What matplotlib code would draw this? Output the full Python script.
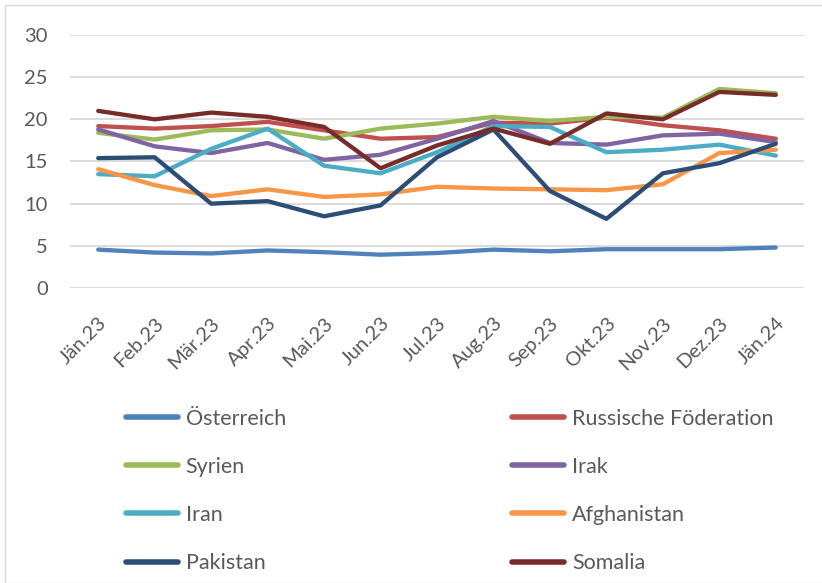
import matplotlib.pyplot as plt
from matplotlib.lines import Line2D
from matplotlib.patches import Rectangle

plt.rcParams['font.family'] = ['Lato', 'DejaVu Sans']

months = ['Jän.23', 'Feb.23', 'Mär.23', 'Apr.23', 'Mai.23', 'Jun.23', 'Jul.23',
          'Aug.23', 'Sep.23', 'Okt.23', 'Nov.23', 'Dez.23', 'Jän.24']

oesterreich = [4.55, 4.2, 4.1, 4.45, 4.25, 3.95, 4.15, 4.55, 4.35, 4.6, 4.6, 4.6, 4.8]
russland = [19.2, 18.9, 19.2, 19.7, 18.7, 17.7, 17.9, 19.6, 19.5, 20.2, 19.3, 18.7, 17.7]
syrien = [18.4, 17.6, 18.7, 18.8, 17.7, 18.9, 19.5, 20.3, 19.8, 20.3, 20.2, 23.6, 23.1]
irak = [18.8, 16.8, 16.0, 17.2, 15.2, 15.8, 17.7, 19.8, 17.2, 17.0, 18.1, 18.3, 17.3]
iran = [13.5, 13.25, 16.5, 18.9, 14.5, 13.6, 16.1, 19.2, 19.1, 16.1, 16.4, 17.0, 15.7]
afghanistan = [14.1, 12.2, 10.9, 11.7, 10.8, 11.1, 12.0, 11.8, 11.7, 11.6, 12.3, 16.0, 16.4]
pakistan = [15.4, 15.5, 10.0, 10.3, 8.5, 9.8, 15.5, 18.8, 11.5, 8.2, 13.6, 14.8, 17.1]
somalia = [21.0, 20.0, 20.8, 20.3, 19.1, 14.2, 16.9, 18.9, 17.1, 20.7, 20.0, 23.25, 22.9]

series = [
    ('Österreich', oesterreich, '#4f81bd'),
    ('Russische Föderation', russland, '#c0504d'),
    ('Syrien', syrien, '#9bbb59'),
    ('Irak', irak, '#8064a2'),
    ('Iran', iran, '#4bacc6'),
    ('Afghanistan', afghanistan, '#f79646'),
    ('Pakistan', pakistan, '#2c4d75'),
    ('Somalia', somalia, '#772c2a'),
]

txt = '#595959'
fig = plt.figure(figsize=(8.22, 5.83), dpi=100)
ax = fig.add_axes([70 / 822, 1 - 288 / 583, 734 / 822, 253 / 583])

x = range(len(months))
for name, vals, col in series:
    ax.plot(x, vals, color=col, lw=3.1, solid_capstyle='round',
            solid_joinstyle='round', label=name)

ax.set_xlim(-0.5, len(months) - 0.5)
ax.set_ylim(0, 30)
ax.set_yticks(range(0, 31, 5))
ax.grid(axis='y', color='#d9d9d9', lw=1.3)
ax.set_axisbelow(True)
for s in ax.spines.values():
    s.set_visible(False)
ax.tick_params(length=0, colors=txt, labelsize=14.5)
ax.tick_params(axis='y', pad=16)
ax.set_xticks(list(x))
ax.set_xticklabels(months, rotation=45, ha='right', rotation_mode='anchor')
ax.tick_params(axis='x', pad=19)

# legend: two columns, filled row by row
handles = [Line2D([], [], color=c, lw=4, solid_capstyle='round') for _, _, c in series]
labels = [n for n, _, _ in series]
order = [0, 2, 4, 6, 1, 3, 5, 7]
fig.legend([handles[i] for i in order], [labels[i] for i in order],
           ncol=2, loc='upper left', bbox_to_anchor=(117 / 822, 1 - 400 / 583),
           borderaxespad=0, frameon=False, fontsize=15.5, labelcolor=txt,
           handlelength=2.42, handletextpad=0.37, columnspacing=10.5,
           labelspacing=1.31)

fig.add_artist(Rectangle((5 / 822, 0), 1, 1 - 5 / 583, transform=fig.transFigure,
                         fill=False, edgecolor='#d9d9d9', lw=1))

fig.savefig('out.png', dpi=100)
